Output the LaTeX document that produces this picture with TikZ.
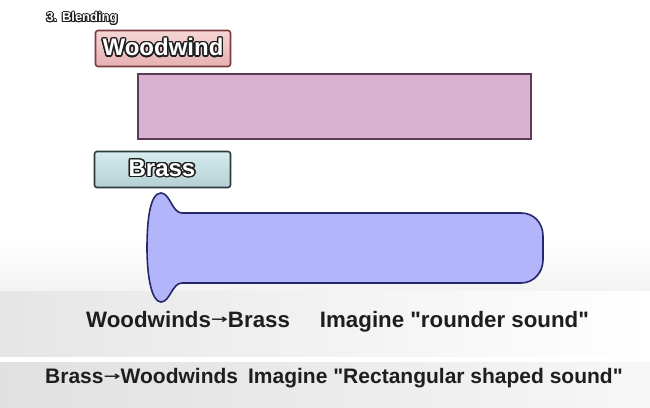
\documentclass[tikz,border=0pt]{standalone}
\usepackage{fontspec}
\setmainfont{Liberation Sans}
\newfontfamily\capfont{Liberation Sans}[Ligatures=ResetAll]
\newfontfamily\arrowfont{DejaVu Sans}
\usepackage{contour}
\contournumber{16}
\definecolor{pinkfill}{HTML}{D9B1D3}
\definecolor{pinkline}{HTML}{5C3B55}
\definecolor{bluefill}{HTML}{B3B5FA}
\definecolor{blueline}{HTML}{26286A}
\definecolor{wwtop}{HTML}{F6D6D6}
\definecolor{wwbot}{HTML}{E6B0B0}
\definecolor{wwline}{HTML}{7A3A3E}
\definecolor{brtop}{HTML}{D6ECEE}
\definecolor{brbot}{HTML}{B4D0D4}
\definecolor{brline}{HTML}{2C3A3C}
\definecolor{txtdark}{HTML}{1E1E1E}
\newcommand{\arr}{\raisebox{0.14em}{\arrowfont\fontsize{12}{12}\selectfont\scalebox{1.7}[1]{→}}}
\begin{document}
\begin{tikzpicture}[x=1pt,y=-1pt,
  outlined/.style={font=\bfseries\fontsize{24}{24}\selectfont, text=white},
  caption/.style={font=\capfont\bfseries\fontsize{22.3}{22.3}\selectfont, text=txtdark, anchor=base west, inner sep=0pt}]
  % background
  \fill[white] (0,0) rectangle (650,407);
  \useasboundingbox (0,0) rectangle (650,407);
  \shade[top color=white, bottom color=gray!10] (0,240) rectangle (650,292);
  \shade[left color=gray!20, right color=white, middle color=gray!10] (0,291.5) rectangle (650,356);
  \shade[left color=gray!24, right color=gray!6, middle color=gray!16] (0,362) rectangle (650,407);
  % title
  \node[font=\bfseries\fontsize{13}{13}\selectfont, inner sep=0pt] (title) at (82,19)
    {\contourlength{0.9pt}\contour{txtdark}{\textcolor{white}{3. Blending}}};
  % woodwind label
  \shade[top color=wwtop, bottom color=wwbot, draw=wwline, line width=1.6pt, rounded corners=2.5pt]
    (95.5,30.5) rectangle (230.5,66.5);
  \node[outlined, inner sep=0pt] (woodwind) at (163,48)
    {\contourlength{1.4pt}\contour{txtdark}{\textcolor{white}{Woodwind}}};
  % pink rectangle
  \draw[fill=pinkfill, draw=pinkline, line width=1.8pt] (138,74) rectangle (531,139);
  % brass label
  \shade[top color=brtop, bottom color=brbot, draw=brline, line width=1.6pt, rounded corners=2.5pt]
    (94.5,151.5) rectangle (230.5,187.5);
  \node[outlined, inner sep=0pt] (brass) at (162,169)
    {\contourlength{1.4pt}\contour{txtdark}{\textcolor{white}{Brass}}};
  % blue bell shape
  \draw[fill=bluefill, draw=blueline, line width=1.6pt]
    (521,213) -- (182,213)
    .. controls (172,213) and (170,193) .. (161,193)
    .. controls (150,193) and (147,220) .. (147,248)
    .. controls (147,278) and (152,302) .. (161,302)
    .. controls (170,302) and (172,283) .. (182,283)
    -- (521,283)
    .. controls (534,283) and (543,272) .. (543,260)
    -- (543,236)
    .. controls (543,223) and (534,213) .. (521,213) -- cycle;
  % captions
  \node[caption] (line1) at (86,327)
    {Woodwinds\arr Brass\hspace{30pt}Imagine "rounder sound"};
  \node[caption, font=\capfont\bfseries\fontsize{21}{21}\selectfont] (line2) at (45,383)
    {Brass\arr Woodwinds\hspace{10pt}Imagine "Rectangular shaped sound"};
\end{tikzpicture}
\end{document}
